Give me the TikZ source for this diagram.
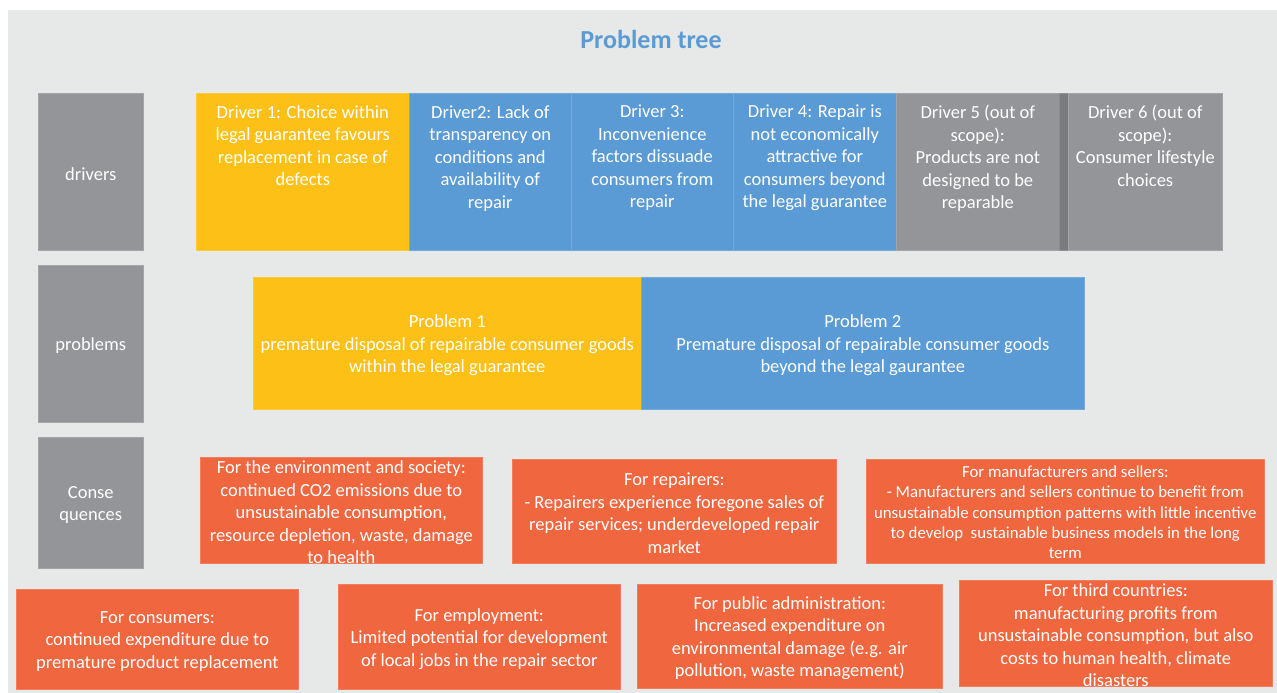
\documentclass[tikz,border=0pt]{standalone}
\usepackage{fontspec}
\setmainfont{Carlito}
\definecolor{bgc}{RGB}{231,233,232}
\definecolor{ylw}{RGB}{252,192,22}
\definecolor{blu}{RGB}{91,155,213}
\definecolor{gry}{RGB}{147,149,152}
\definecolor{dgry}{RGB}{122,123,126}
\definecolor{org}{RGB}{239,102,63}
\definecolor{ttl}{RGB}{91,155,213}
\begin{document}
\begin{tikzpicture}[x=1pt,y=-1pt,
  box/.style={draw=#1!85!white, line width=0.6pt, fill=#1, inner sep=0pt, anchor=north west},
  txt/.style={text=white, align=center, inner sep=0pt, yshift=-2pt, font=\fontsize{18.5}{22.5}\selectfont},
  stxt/.style={text=white, align=center, inner sep=0pt, yshift=-1pt, font=\fontsize{16.8}{20.2}\selectfont}]
\useasboundingbox (0,0) rectangle (1277,693);
\fill[white] (0,0) rectangle (1277,693);
\fill[bgc] (8,10) rectangle (1277,693);
\node[text=ttl, inner sep=0pt, font=\bfseries\fontsize{26}{30}\selectfont] (title) at (651,39) {Problem tree};
% left labels
\node[box=gry, minimum width=105pt, minimum height=157pt] (lbd) at (38,93) {};
\node[box=gry, minimum width=105pt, minimum height=157pt] (lbp) at (38,265) {};
\node[box=gry, minimum width=105pt, minimum height=131pt] (lbc) at (38,437) {};
\node[txt] (lbdt) at (lbd.center) {drivers};
\node[txt] (lbpt) at (lbp.center) {problems};
\node[txt] (lbct) at (lbc.center) {Conse\\quences};
% drivers
\node[box=ylw, minimum width=213pt, minimum height=157pt] (d1) at (196,93) {};
\node[box=blu, minimum width=162pt, minimum height=157pt] (d2) at (409,93) {};
\node[box=blu, minimum width=162pt, minimum height=157pt] (d3) at (571,93) {};
\node[box=blu, minimum width=163pt, minimum height=157pt] (d4) at (733,93) {};
\node[box=gry, minimum width=163pt, minimum height=157pt] (d5) at (896,93) {};
\node[box=dgry, minimum width=9pt, minimum height=157pt] (d56) at (1059,93) {};
\node[box=gry, minimum width=154pt, minimum height=157pt] (d6) at (1068,93) {};
\node[txt, anchor=north] (d1t) at ([yshift=-10]d1.north) {Driver 1: Choice within\\legal guarantee favours\\replacement in case of\\defects};
\node[txt, anchor=north] (d2t) at ([yshift=-10]d2.north) {Driver2: Lack of\\transparency on\\conditions and\\availability of\\repair};
\node[txt, anchor=north] (d3t) at ([yshift=-10]d3.north) {Driver 3:\\Inconvenience\\factors dissuade\\consumers from\\repair};
\node[txt, anchor=north] (d4t) at ([yshift=-10]d4.north) {Driver 4: Repair is\\not economically\\attractive for\\consumers beyond\\the legal guarantee};
\node[txt, anchor=north] (d5t) at ([yshift=-10]d5.north) {Driver 5 (out of\\scope):\\Products are not\\designed to be\\reparable};
\node[txt, anchor=north] (d6t) at ([yshift=-10]d6.north) {Driver 6 (out of\\scope):\\Consumer lifestyle\\choices};
% problems
\node[box=ylw, minimum width=388pt, minimum height=132pt] (p1) at (253,277) {};
\node[box=blu, minimum width=443pt, minimum height=132pt] (p2) at (641,277) {};
\node[txt] (p1t) at (p1.center) {Problem 1\\premature disposal of repairable consumer goods\\within the legal guarantee};
\node[txt] (p2t) at (p2.center) {Problem 2\\Premature disposal of repairable consumer goods\\beyond the legal gaurantee};
% consequences row 1
\node[box=org, minimum width=282pt, minimum height=106pt] (c1) at (200,457) {};
\node[box=org, minimum width=324pt, minimum height=104pt] (c2) at (512,459) {};
\node[box=org, minimum width=398pt, minimum height=104pt] (c3) at (866,459) {};
\node[txt] (c1t) at (c1.center) {For the environment and society:\\continued CO2 emissions due to\\unsustainable consumption,\\resource depletion, waste, damage\\to health};
\node[txt] (c2t) at (c2.center) {For repairers:\\- Repairers experience foregone sales of\\repair services; underdeveloped repair\\market};
\node[stxt] (c3t) at (c3.center) {For manufacturers and sellers:\\- Manufacturers and sellers continue to benefit from\\unsustainable consumption patterns with little incentive\\to develop\ \ sustainable business models in the long\\term};
% consequences row 2
\node[box=org, minimum width=282pt, minimum height=100pt] (c4) at (16,589) {};
\node[box=org, minimum width=282pt, minimum height=105pt] (c5) at (338,584) {};
\node[box=org, minimum width=305pt, minimum height=104pt] (c6) at (637,584) {};
\node[box=org, minimum width=313pt, minimum height=106pt] (c7) at (959,580) {};
\node[txt] (c4t) at (c4.center) {For consumers:\\continued expenditure due to\\premature product replacement};
\node[txt] (c5t) at (c5.center) {For employment:\\Limited potential for development\\of local jobs in the repair sector};
\node[txt] (c6t) at (c6.center) {For public administration:\\Increased expenditure on\\environmental damage (e.g. air\\pollution, waste management)};
\node[txt] (c7t) at (c7.center) {For third countries:\\manufacturing profits from\\unsustainable consumption, but also\\costs to human health, climate\\disasters};
\end{tikzpicture}
\end{document}
